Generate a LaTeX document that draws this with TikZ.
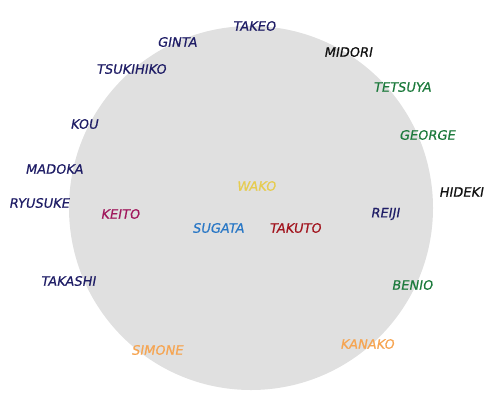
\documentclass[tikz,border=0pt]{standalone}
\usepackage{fontspec}
\newfontfamily\namefont{DejaVu Sans}[FakeBold=0.6, FakeSlant=0.18]
\usepackage{xcolor}
\usepackage{tikz}
\definecolor{Navy}{HTML}{1F1D66}
\definecolor{Leaf}{HTML}{1C7A3C}
\definecolor{Ink}{HTML}{111111}
\definecolor{Gold}{HTML}{E6CC50}
\definecolor{Sky}{HTML}{2A78C6}
\definecolor{Crimson}{HTML}{A2141E}
\definecolor{Berry}{HTML}{A0175C}
\definecolor{Peach}{HTML}{F6A552}
\definecolor{Cloud}{HTML}{E0E0E0}

\begin{document}
\begin{tikzpicture}[x=1pt, y=-1pt, every node/.style={font=\fontsize{13}{15}\selectfont\namefont, inner sep=0pt}, ring/.style={circle, fill=Cloud, minimum size=364pt}, who/.style={text=Navy}]
\useasboundingbox (0,0) rectangle (500,405);
\node[ring] (ring) at (251,208) {};
% around the ring
\node[who] (takeo) at (254,26) {TAKEO};
\node[who] (ginta) at (177,42) {GINTA};
\node[who] (tsukihiko) at (131,69) {TSUKIHIKO};
\node[who] (kou) at (84,124) {KOU};
\node[who] (madoka) at (54,169) {MADOKA};
\node[who] (ryusuke) at (39,203) {RYUSUKE};
\node[who] (takashi) at (68,281) {TAKASHI};
\node[who,text=Peach] (simone) at (157,350) {SIMONE};
\node[who,text=Peach] (kanako) at (367,344) {KANAKO};
\node[who,text=Leaf] (benio) at (412,285) {BENIO};
\node[who,text=Ink] (hideki) at (461,192) {HIDEKI};
\node[who,text=Leaf] (george) at (427,135) {GEORGE};
\node[who,text=Leaf] (tetsuya) at (402,87) {TETSUYA};
\node[who,text=Ink] (midori) at (348,52) {MIDORI};
% inside the ring
\node[who,text=Gold] (wako) at (256,186) {WAKO};
\node[who,text=Berry] (keito) at (120,214) {KEITO};
\node[who,text=Sky] (sugata) at (218,228) {SUGATA};
\node[who,text=Crimson] (takuto) at (295,228) {TAKUTO};
\node[who] (reiji) at (385,214) {REIJI};
\end{tikzpicture}
\end{document}
